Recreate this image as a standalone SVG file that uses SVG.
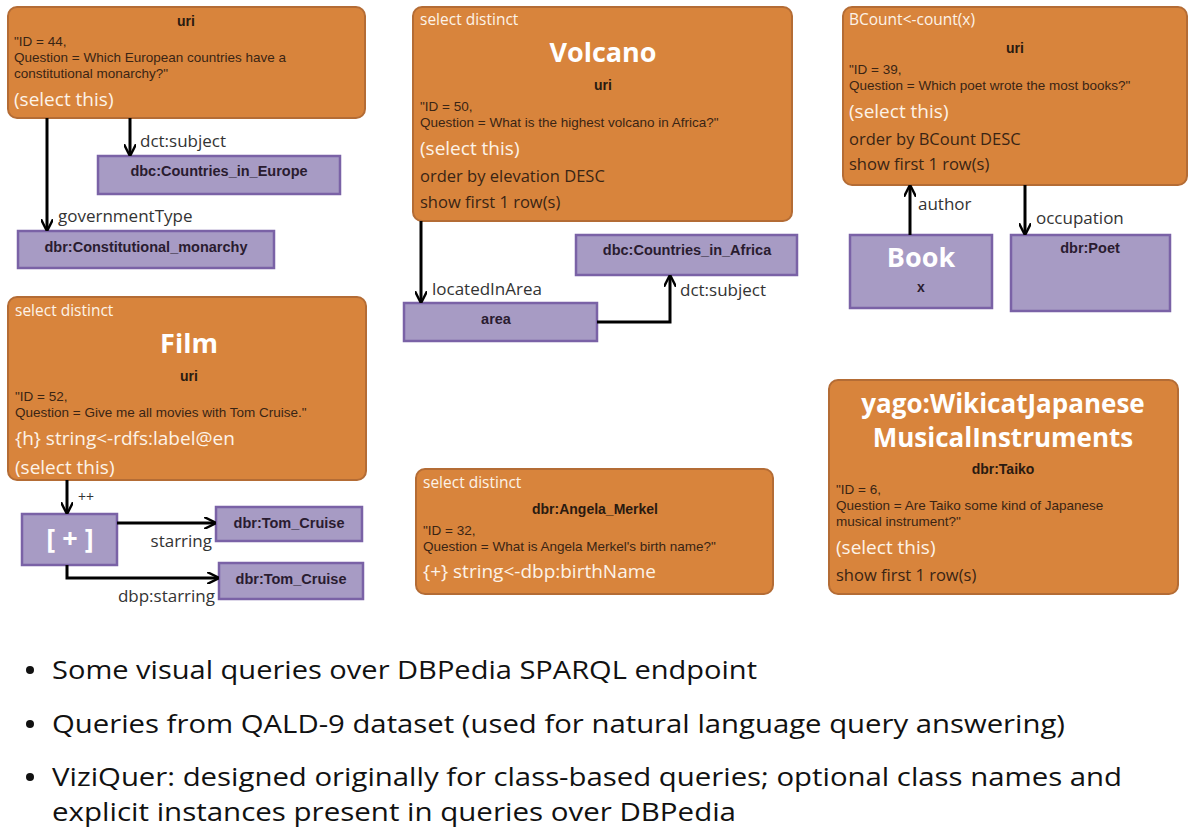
<svg xmlns="http://www.w3.org/2000/svg" width="1200" height="840" viewBox="0 0 1200 840">
<style>
.o{fill:#d8843c;stroke:#b46c35;stroke-width:2}
.p{fill:#a79bc4;stroke:#7a62a6;stroke-width:2.5}
.s{font-family:"Liberation Sans",Arial,sans-serif;font-size:13.5px;fill:#3a2414}
.b{font-family:"Liberation Sans",Arial,sans-serif;font-size:14px;font-weight:bold;fill:#2a1a10;text-anchor:middle}
.pb{font-family:"Liberation Sans",Arial,sans-serif;font-size:14.5px;font-weight:bold;fill:#2a1c30;text-anchor:middle}
.w{font-family:"Open Sans","Noto Sans",sans-serif;font-size:19px;fill:#fdf3e8}
.d{font-family:"Open Sans","Noto Sans",sans-serif;font-size:16.5px;fill:#3a2414}
.sd{font-family:"Open Sans","Noto Sans",sans-serif;font-size:15.5px;fill:#fdf3e8}
.t{font-family:"Open Sans","Noto Sans",sans-serif;font-size:27px;font-weight:bold;fill:#ffffff;text-anchor:middle}
.l{font-family:"Open Sans","Noto Sans",sans-serif;font-size:17px;fill:#333}
.c{fill:none;stroke:#000;stroke-width:3}
.bl{font-family:"Open Sans","Noto Sans",sans-serif;font-size:25px;fill:#111}
.dot{fill:#111}
</style>
<defs><marker id="a" viewBox="0 0 10 10" refX="9" refY="5" markerWidth="4" markerHeight="4" orient="auto"><path d="M0,0 L10,5 L0,10" fill="none" stroke="#000" stroke-width="2"/></marker></defs>

<g id="n1"><rect class="o" x="8" y="7" width="357" height="111" rx="9"/>
<text class="b" x="186" y="26">uri</text>
<text class="s" x="14" y="46">"ID = 44,</text><text class="s" x="14" y="62">Question = Which European countries have a</text><text class="s" x="14" y="78">constitutional monarchy?"</text>
<text class="w" x="14" y="106">(select this)</text></g>
<g id="n2"><rect class="p" x="98" y="156" width="242" height="38"/><text class="pb" x="219" y="176">dbc:Countries_in_Europe</text></g>
<g id="n3"><rect class="p" x="18" y="231" width="256" height="37"/><text class="pb" x="146" y="252">dbr:Constitutional_monarchy</text></g>

<g id="n4"><rect class="o" x="413" y="7" width="379" height="214" rx="9"/>
<text class="sd" x="420" y="25">select distinct</text>
<text class="t" x="603" y="62">Volcano</text>
<text class="b" x="603" y="90">uri</text>
<text class="s" x="420" y="111">"ID = 50,</text><text class="s" x="420" y="127">Question = What is the highest volcano in Africa?"</text>
<text class="w" x="420" y="155">(select this)</text>
<text class="d" x="420" y="182">order by elevation DESC</text>
<text class="d" x="420" y="208">show first 1 row(s)</text></g>
<g id="n5"><rect class="p" x="404" y="303" width="193" height="38"/><text class="pb" x="496" y="324">area</text></g>
<g id="n6"><rect class="p" x="576" y="235" width="221" height="40"/><text class="pb" x="687" y="255">dbc:Countries_in_Africa</text></g>

<g id="n7"><rect class="o" x="843" y="7" width="344" height="178" rx="9"/>
<text class="sd" x="849" y="25">BCount&lt;-count(x)</text>
<text class="b" x="1015" y="53">uri</text>
<text class="s" x="849" y="74">"ID = 39,</text><text class="s" x="849" y="90">Question = Which poet wrote the most books?"</text>
<text class="w" x="849" y="118">(select this)</text>
<text class="d" x="849" y="145">order by BCount DESC</text>
<text class="d" x="849" y="170">show first 1 row(s)</text></g>
<g id="n8"><rect class="p" x="850" y="235" width="142" height="73"/><text class="t" x="921" y="267">Book</text><text class="b" x="921" y="292" style="fill:#2a1c30">x</text></g>
<g id="n9"><rect class="p" x="1011" y="235" width="159" height="76"/><text class="pb" x="1090" y="253">dbr:Poet</text></g>

<g id="n10"><rect class="o" x="8" y="297" width="358" height="183" rx="9"/>
<text class="sd" x="15" y="316">select distinct</text>
<text class="t" x="189" y="353">Film</text>
<text class="b" x="189" y="381">uri</text>
<text class="s" x="15" y="401">"ID = 52,</text><text class="s" x="15" y="417">Question = Give me all movies with Tom Cruise."</text>
<text class="w" x="15" y="445">{h} string&lt;-rdfs:label@en</text>
<text class="w" x="15" y="474">(select this)</text></g>
<g id="n11"><rect class="p" x="22" y="514" width="95" height="51"/><text class="t" x="70" y="548">[ + ]</text></g>
<g id="n12"><rect class="p" x="216" y="507" width="146" height="34"/><text class="pb" x="289" y="528">dbr:Tom_Cruise</text></g>
<g id="n13"><rect class="p" x="219" y="563" width="144" height="36"/><text class="pb" x="291" y="584">dbr:Tom_Cruise</text></g>

<g id="n14"><rect class="o" x="416" y="469" width="357" height="125" rx="9"/>
<text class="sd" x="423" y="488">select distinct</text>
<text class="b" x="595" y="514">dbr:Angela_Merkel</text>
<text class="s" x="423" y="535">"ID = 32,</text><text class="s" x="423" y="551">Question = What is Angela Merkel's birth name?"</text>
<text class="w" x="423" y="578">{+} string&lt;-dbp:birthName</text></g>

<g id="n15"><rect class="o" x="829" y="380" width="349" height="214" rx="9"/>
<text class="t" x="1003" y="413" style="font-size:26px">yago:WikicatJapanese</text>
<text class="t" x="1003" y="447" style="font-size:26px">MusicalInstruments</text>
<text class="b" x="1003" y="474">dbr:Taiko</text>
<text class="s" x="836" y="494">"ID = 6,</text><text class="s" x="836" y="510">Question = Are Taiko some kind of Japanese</text><text class="s" x="836" y="526">musical instrument?"</text>
<text class="w" x="836" y="554">(select this)</text>
<text class="d" x="836" y="581">show first 1 row(s)</text></g>

<g id="connectors">
<path class="c" marker-end="url(#a)" d="M47,118 V230"/>
<path class="c" marker-end="url(#a)" d="M130,118 V155"/>
<path class="c" marker-end="url(#a)" d="M421,221 V302"/>
<path class="c" marker-end="url(#a)" d="M597,322 H670 V276"/>
<path class="c" marker-end="url(#a)" d="M910,235 V186"/>
<path class="c" marker-end="url(#a)" d="M1025,185 V234"/>
<path class="c" marker-end="url(#a)" d="M67,480 V513"/>
<path class="c" marker-end="url(#a)" d="M117,523 H215"/>
<path class="c" marker-end="url(#a)" d="M67,565 V578 H218"/>
<text class="l" x="140" y="147">dct:subject</text>
<text class="l" x="58" y="222">governmentType</text>
<text class="l" x="432" y="295">locatedInArea</text>
<text class="l" x="680" y="296">dct:subject</text>
<text class="l" x="918" y="210">author</text>
<text class="l" x="1036" y="224">occupation</text>
<text class="l" x="78" y="502" style="font-size:14px">++</text>
<text class="l" x="212" y="547" text-anchor="end">starring</text>
<text class="l" x="215" y="602" text-anchor="end">dbp:starring</text>
</g>

<g id="bullets">
<circle class="dot" cx="30" cy="670" r="4"/><text class="bl" x="52" y="679" textLength="705" lengthAdjust="spacingAndGlyphs">Some visual queries over DBPedia SPARQL endpoint</text>
<circle class="dot" cx="30" cy="724" r="4"/><text class="bl" x="52" y="733" textLength="1013" lengthAdjust="spacingAndGlyphs">Queries from QALD-9 dataset (used for natural language query answering)</text>
<circle class="dot" cx="30" cy="777" r="4"/><text class="bl" x="52" y="786" textLength="1070" lengthAdjust="spacingAndGlyphs">ViziQuer: designed originally for class-based queries; optional class names and</text>
<text class="bl" x="52" y="821" textLength="684" lengthAdjust="spacingAndGlyphs">explicit  instances present in queries over DBPedia</text>
</g>
</svg>
